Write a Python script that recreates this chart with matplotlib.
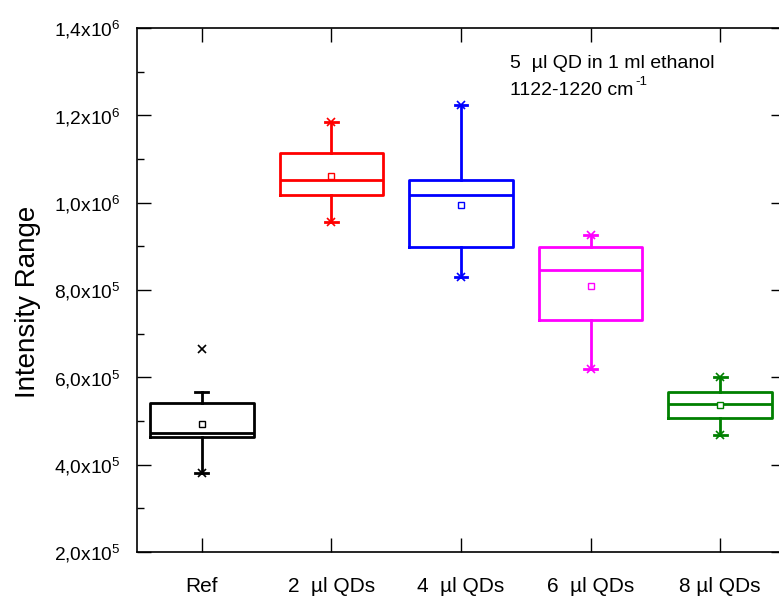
# Box plots of intensity range for QD additions in ethanol

import numpy as np
import matplotlib.pyplot as plt
from matplotlib.ticker import FuncFormatter, MultipleLocator

plt.rcParams['font.family'] = ['Liberation Sans', 'DejaVu Sans']

# Input data
labels = ['Ref', '2  \u00b5l QDs', '4  \u00b5l QDs', '6  \u00b5l QDs', '8 \u00b5l QDs']
colors = ['black', '#ff0000', '#0000ff', '#ff00ff', '#008000']
q1 = [462700, 1017500, 898400, 731300, 506200]
med = [471800, 1051900, 1018300, 845800, 538900]
q3 = [540500, 1113000, 1051900, 899200, 565700]
mean = [492400, 1061000, 995300, 809900, 536000]
whis_lo = [380200, 955000, 829000, 619100, 468000]
whis_hi = [565700, 1185400, 1224400, 926000, 601500]
vmin = [380200, 955000, 829000, 619100, 468000]
vmax = [664200, 1185400, 1224400, 926000, 601500]

pos = np.arange(1, len(labels) + 1)

fig = plt.figure(figsize=(7.79, 5.99), dpi=100)
ax = fig.add_axes([137/779, 1 - 552/599, (785 - 137)/779, 524/599])

for i in range(len(labels)):
    st = [dict(med=med[i], q1=q1[i], q3=q3[i], mean=mean[i],
               whislo=whis_lo[i], whishi=whis_hi[i], fliers=[])]
    c = colors[i]
    ax.bxp(st, positions=[pos[i]], widths=0.8, capwidths=0.1,
           showmeans=True, showfliers=False,
           boxprops=dict(color=c, lw=2),
           medianprops=dict(color=c, lw=2),
           whiskerprops=dict(color=c, lw=2),
           capprops=dict(color=c, lw=2),
           meanprops=dict(marker='s', markersize=4.5, markerfacecolor='white',
                          markeredgecolor=c, markeredgewidth=1))
    ax.plot([pos[i], pos[i]], [vmin[i], vmax[i]], ls='none', marker='x',
            ms=6, mew=1.2, color=c)

ax.set_xlim(0.5, 5.5)
ax.set_ylim(2e5, 1.4e6)
ax.set_xticks(pos)
ax.set_xticklabels(labels, fontsize=15)
ax.yaxis.set_major_locator(MultipleLocator(2e5))
ax.yaxis.set_minor_locator(MultipleLocator(1e5))


def sci(v, p):
    if v <= 0:
        return ''
    e = int(np.floor(np.log10(v) + 1e-9))
    m = v / 10**e
    return r'$\mathregular{%sx10^{%d}}$' % (('%.1f' % m).replace('.', '{,}'), e)


ax.yaxis.set_major_formatter(FuncFormatter(sci))
ax.tick_params(axis='y', labelsize=13.8, pad=12)
ax.tick_params(axis='x', pad=18)
ax.tick_params(which='both', direction='in', top=True, right=True, width=1)
ax.tick_params(which='major', length=10)
ax.tick_params(which='minor', length=5, right=False)
for s in ax.spines.values():
    s.set_linewidth(1.2)

ax.set_ylabel('Intensity Range', fontsize=20)
ax.yaxis.set_label_coords(-0.148, 0.477)

ax.text(510, 599 - 68, '5  \u00b5l QD in 1 ml ethanol', transform=None, fontsize=14)
ax.text(510, 599 - 95, '1122-1220 cm', transform=None, fontsize=14)
ax.text(635, 599 - 85, '-1', transform=None, fontsize=9.5)

fig.savefig('out.png', dpi=100)
